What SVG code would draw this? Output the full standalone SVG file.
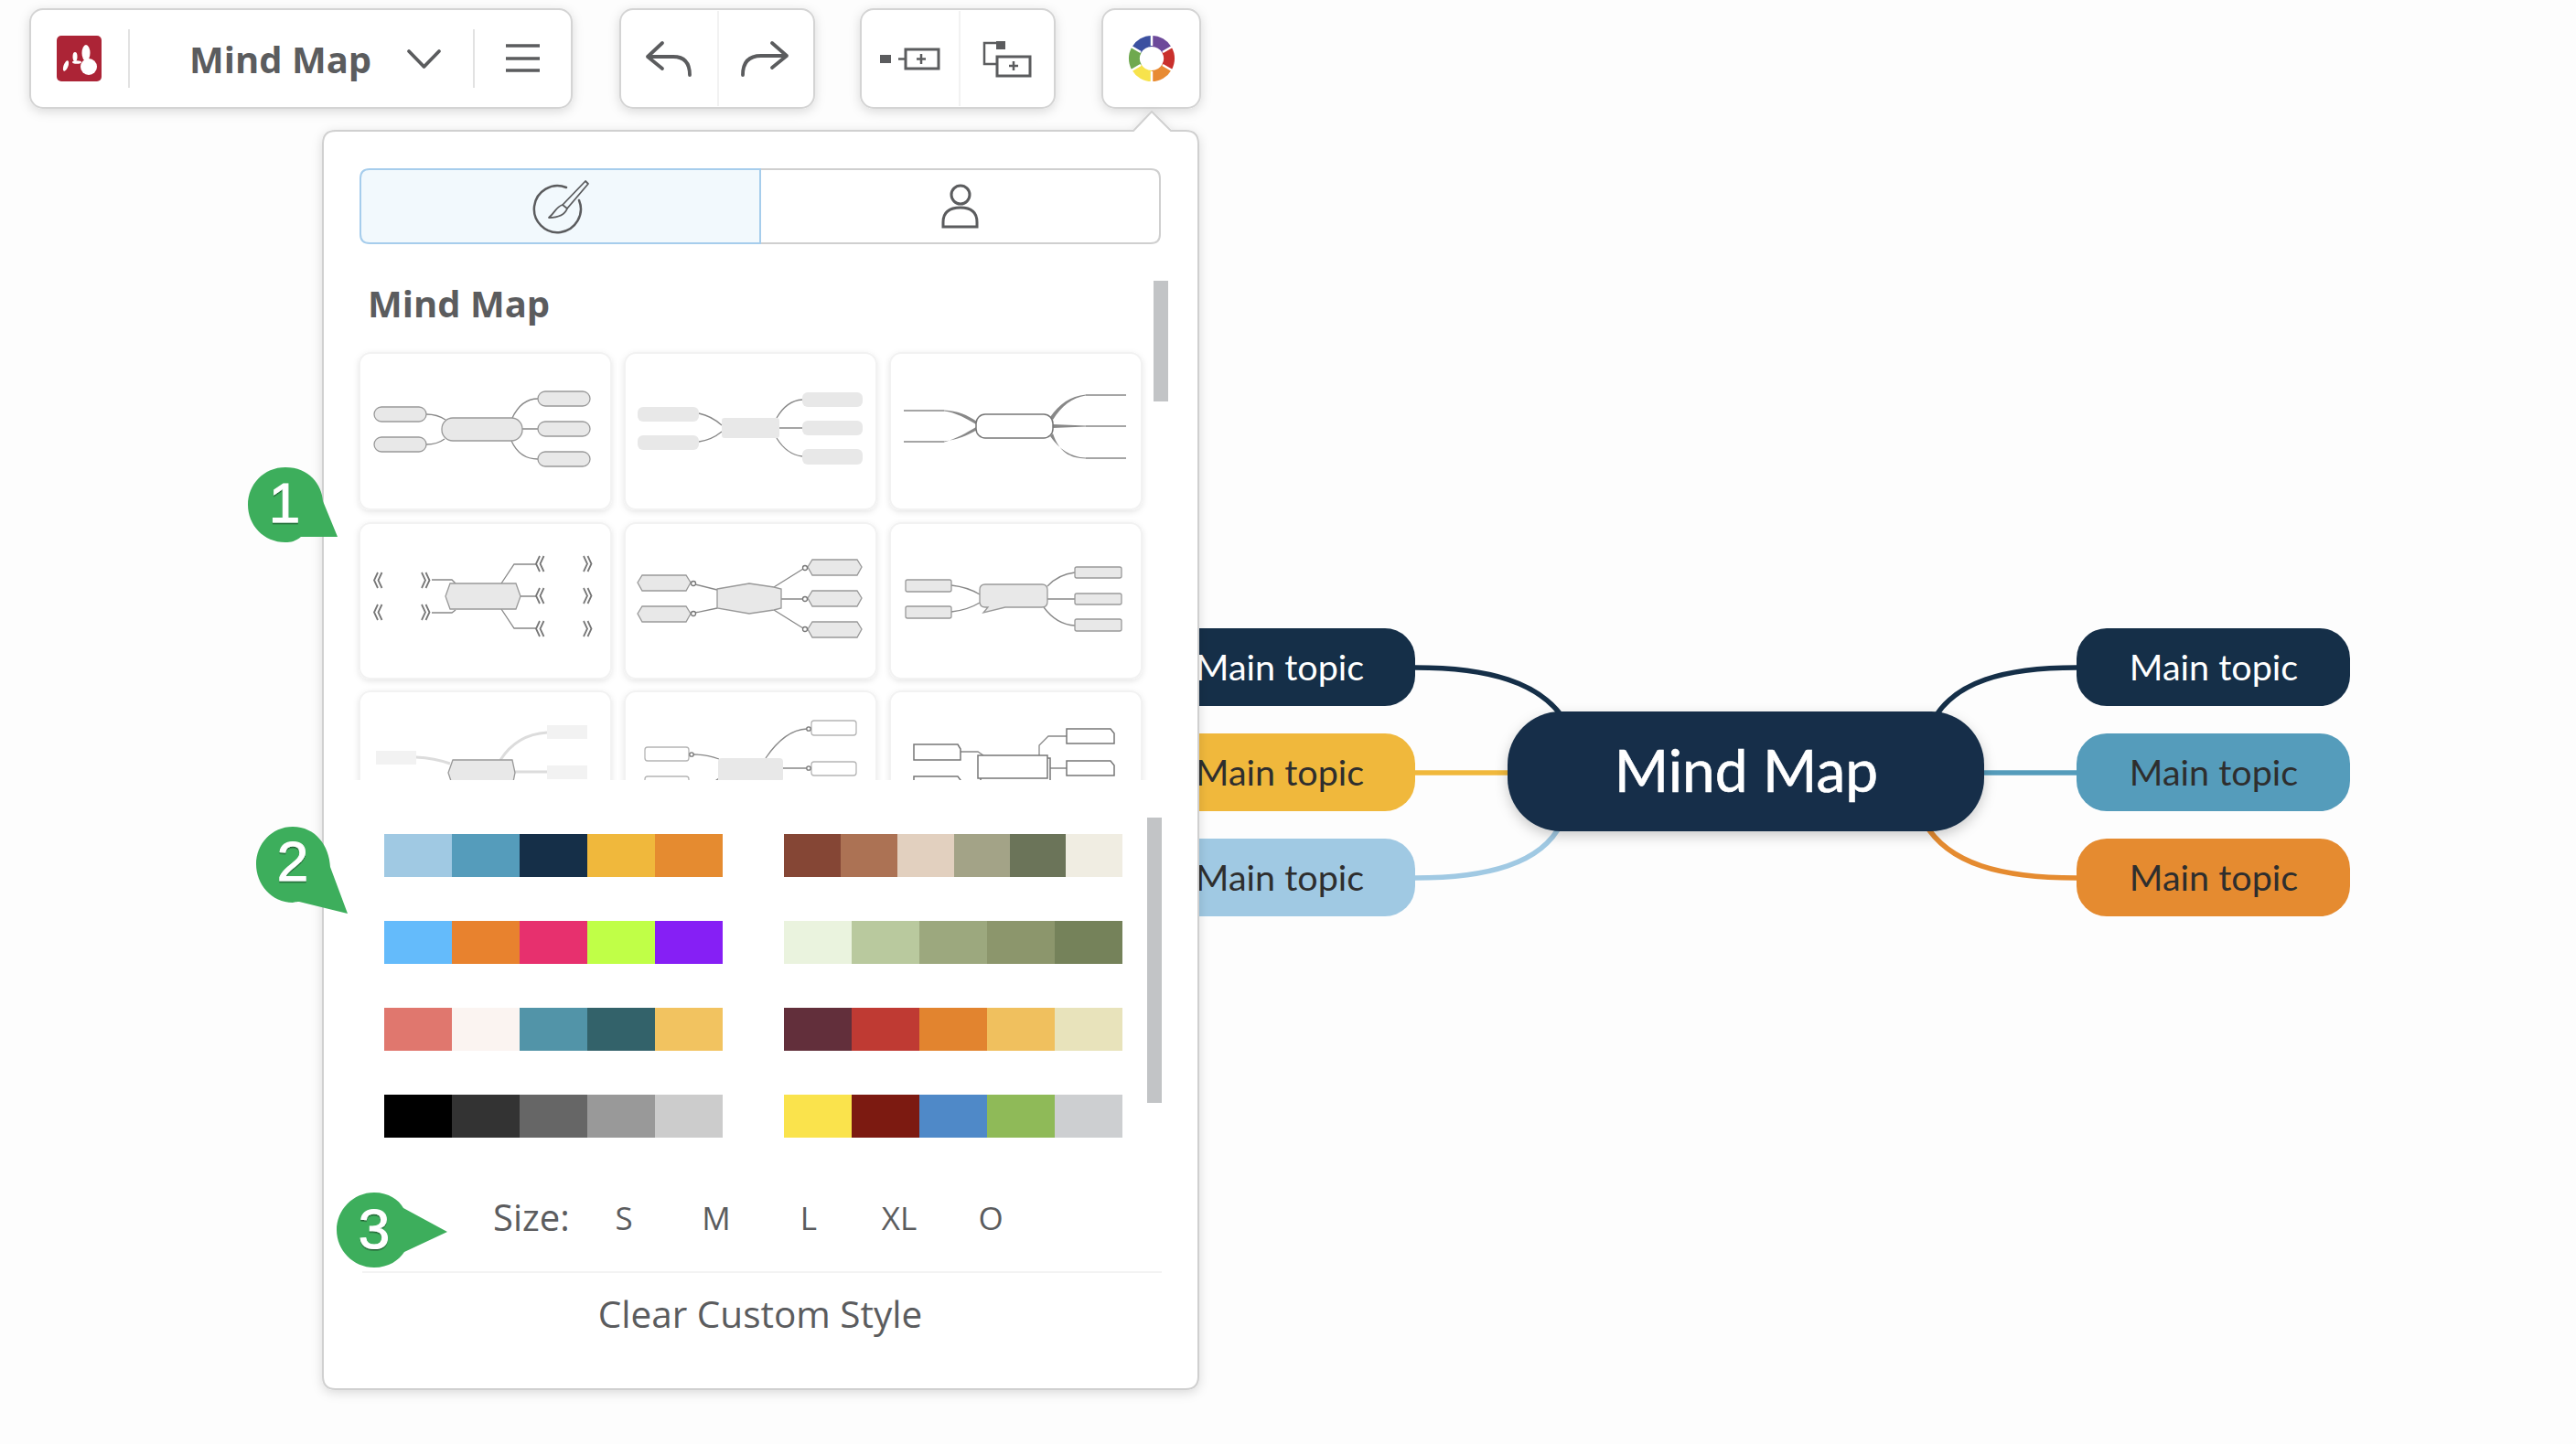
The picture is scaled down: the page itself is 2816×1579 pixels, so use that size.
<svg xmlns="http://www.w3.org/2000/svg" xmlns:xlink="http://www.w3.org/1999/xlink" width="2816" height="1579" viewBox="0 0 2816 1579">
<style>
.ui{font-family:"Open Sans","Noto Sans",sans-serif;fill:#5b5c5e}
.b{font-weight:700;font-size:40px}
.sz{font-size:35px;text-anchor:middle}
.tb{fill:#fff;stroke:#d4d4d4;stroke-width:2;filter:url(#sh)}
.sep{stroke:#e2e2e2;stroke-width:2}
.ic{fill:none;stroke:#5b5c5e;stroke-width:3.8;stroke-linecap:round;stroke-linejoin:round}
.card{fill:#fff;stroke:#f2f2f2;stroke-width:2;filter:url(#shc)}
.m{fill:#e8e8e8;stroke:#999;stroke-width:1.3}
.mn{fill:#e8e8e8}
.mw{fill:#fff;stroke:#b5b5b5;stroke-width:1.3}
.md{fill:#fff;stroke:#777;stroke-width:1.5}
.l{fill:none;stroke:#888;stroke-width:1.3}
.ch{fill:none;stroke:#777;stroke-width:1.8}
.lt{fill:none;stroke:#dcdcdc;stroke-width:3}
.tp{fill:#888}
.o{fill:#fff;stroke:#777;stroke-width:1.3}
.badge{fill:#3dae5c}
.num{font-family:"Liberation Sans",Arial,sans-serif;font-size:62px;fill:#fff;stroke:#fff;stroke-width:1;text-anchor:middle;filter:url(#ts)}
.topic{font-family:Lato,"Open Sans",sans-serif;font-size:39.500px;text-anchor:middle}
.c{fill:none;stroke-width:5.500}
</style>
<defs>
<filter id="sh" x="-20%" y="-30%" width="140%" height="170%"><feDropShadow dx="0" dy="3" stdDeviation="6" flood-color="#000" flood-opacity=".14"/></filter>
<filter id="shc" x="-10%" y="-10%" width="120%" height="125%"><feDropShadow dx="0" dy="2" stdDeviation="3" flood-color="#000" flood-opacity=".1"/></filter>
<filter id="shn" x="-10%" y="-20%" width="120%" height="150%"><feDropShadow dx="0" dy="5" stdDeviation="7" flood-color="#000" flood-opacity=".2"/></filter>
<filter id="ts" x="-30%" y="-20%" width="160%" height="140%"><feDropShadow dx="0" dy="1.500" stdDeviation=".5" flood-color="#000" flood-opacity=".45"/></filter>
<clipPath id="cards"><rect x="360" y="370" width="900" height="483"/></clipPath>
<g id="chl" class="ch"><path d="M4 0L0 8.500L4 17M8.500 0L4.500 8.500L8.500 17"/></g>
<g id="chr" class="ch"><path d="M0 0L4 8.500L0 17M4.500 0L8.500 8.500L4.500 17"/></g>
</defs>
<rect width="2816" height="1579" fill="#fdfdfd"/>

<g id="connectors">
<path class="c" stroke="#152f48" d="M1547 730C1625 730 1685 745 1712 790"/>
<path class="c" stroke="#f0b83c" d="M1547 845H1650"/>
<path class="c" stroke="#a0c9e3" d="M1547 960C1625 960 1685 945 1707 900"/>
<path class="c" stroke="#152f48" d="M2270 730C2192 730 2135 745 2112 790"/>
<path class="c" stroke="#559cbb" d="M2167 845H2270"/>
<path class="c" stroke="#e58b30" d="M2270 960C2188 960 2130 945 2104 900"/>
</g>

<g id="node-left-1"><rect x="1248" y="687" width="299" height="85" rx="33" fill="#152f48"/><text class="topic" x="1399" y="744" fill="#fff">Main topic</text></g>
<g id="node-left-2"><rect x="1248" y="802" width="299" height="85" rx="33" fill="#f0b83c"/><text class="topic" x="1399" y="859" fill="#2e2e2e">Main topic</text></g>
<g id="node-left-3"><rect x="1248" y="917" width="299" height="85" rx="33" fill="#a0c9e3"/><text class="topic" x="1399" y="974" fill="#2e2e2e">Main topic</text></g>
<g id="node-right-1"><rect x="2270" y="687" width="299" height="85" rx="33" fill="#152f48"/><text class="topic" x="2420" y="744" fill="#fff">Main topic</text></g>
<g id="node-right-2"><rect x="2270" y="802" width="299" height="85" rx="33" fill="#559cbb"/><text class="topic" x="2420" y="859" fill="#2e2e2e">Main topic</text></g>
<g id="node-right-3"><rect x="2270" y="917" width="299" height="85" rx="33" fill="#e58b30"/><text class="topic" x="2420" y="974" fill="#2e2e2e">Main topic</text></g>
<g id="node-center"><rect x="1648" y="778" width="521" height="131" rx="58" fill="#152f48" filter="url(#shn)"/><text x="1909" y="866" font-family="Lato,'Open Sans',sans-serif" font-size="64" fill="#fff" stroke="#fff" stroke-width=".6" text-anchor="middle">Mind Map</text></g>

<g id="toolbar-main">
<rect class="tb" x="33" y="10" width="592" height="108" rx="14"/>
<rect x="62" y="39" width="49" height="50" rx="5" fill="#ac2436"/>
<g fill="#fff"><circle cx="97" cy="73" r="9"/><ellipse cx="94" cy="58" rx="4.500" ry="9"/><ellipse cx="82" cy="62" rx="2.500" ry="5"/><ellipse cx="72" cy="72" rx="2.500" ry="6" transform="rotate(20 72 72)"/><ellipse cx="84" cy="68" rx="5" ry="1.800"/></g>
<line class="sep" x1="141" y1="32" x2="141" y2="96"/>
<text class="ui b" x="207" y="80">Mind Map</text>
<path class="ic" stroke-width="2.500" d="M447 56L463.500 73L480 56"/>
<line class="sep" x1="518" y1="32" x2="518" y2="96"/>
<path d="M553 50H590M553 64H590M553 77H590" stroke="#5b5c5e" stroke-width="3.500" fill="none"/>
</g>
<g id="toolbar-undo">
<rect class="tb" x="678" y="10" width="212" height="108" rx="14"/>
<line x1="785" y1="12" x2="785" y2="116" stroke="#f2f2f2" stroke-width="2"/>
<path class="ic" d="M724 47L708 62L724 75M708 62H736Q754 62 754 82"/>
<path class="ic" d="M844 47L860 61L844 74M860 61H832Q812 61 812 82"/>
</g>
<g id="toolbar-add">
<rect class="tb" x="941" y="10" width="212" height="108" rx="14"/>
<line x1="1049" y1="12" x2="1049" y2="116" stroke="#f2f2f2" stroke-width="2"/>
<rect x="962" y="60" width="12" height="9" fill="#5b5c5e"/>
<path d="M982 64.500H990M1002 64.500H1012M1007 59V70" fill="none" stroke="#5b5c5e" stroke-width="2.500"/>
<rect x="990" y="54" width="36" height="21" fill="none" stroke="#5b5c5e" stroke-width="3"/>
<rect x="1089" y="45" width="10" height="9" fill="#5b5c5e"/>
<path d="M1089 47H1076V70H1090M1103 72H1113M1108 67V77" fill="none" stroke="#5b5c5e" stroke-width="2.500"/>
<rect x="1090" y="62" width="36" height="21" fill="none" stroke="#5b5c5e" stroke-width="3"/>
</g>
<g id="toolbar-theme">
<rect class="tb" x="1205" y="10" width="107" height="108" rx="14"/>
<g fill="none" stroke-width="12">
<path stroke="#6d4a9a" d="M1259 45A19 19 0 0 1 1275.500 54.500"/>
<path stroke="#c9302c" d="M1275.500 54.500A19 19 0 0 1 1275.500 73.500"/>
<path stroke="#e88b33" d="M1275.500 73.500A19 19 0 0 1 1259 83"/>
<path stroke="#f7e34c" d="M1259 83A19 19 0 0 1 1242.500 73.500"/>
<path stroke="#6fa94f" d="M1242.500 73.500A19 19 0 0 1 1242.500 54.500"/>
<path stroke="#3b50a0" d="M1242.500 54.500A19 19 0 0 1 1259 45"/>
</g>
<path d="M1259 36V50M1259 78V92M1235 50L1247 57M1271 71L1283 78M1235 78L1247 71M1271 57L1283 50" stroke="#fff" stroke-width="2.500"/>
</g>

<g id="panel">
<path d="M367 143H1239L1259 122L1280 143H1296Q1310 143 1310 157V1505Q1310 1519 1296 1519H367Q353 1519 353 1505V157Q353 143 367 143Z" fill="#fff" stroke="#d0d0d0" stroke-width="2" filter="url(#sh)"/>
<path d="M831 185H1258Q1268 185 1268 195V256Q1268 266 1258 266H831Z" fill="#fff" stroke="#cfcfcf" stroke-width="2"/>
<path d="M831 185H404Q394 185 394 195V256Q394 266 404 266H831Z" fill="#f2f9fd" stroke="#a6cdec" stroke-width="2"/>
<g id="icon-brush" fill="none" stroke="#5b5c5e" stroke-width="2.500" stroke-linecap="round" stroke-linejoin="round">
<path d="M619 205A25.500 25.500 0 1 0 633 219"/>
<path stroke-width="1.800" d="M640 198L643 201L620 228L615 224Z"/>
<path stroke-width="1.800" d="M615 224C608 226 607 232 600 238C609 238 617 236 620 228"/>
</g>
<g id="icon-person" fill="none" stroke="#5b5c5e" stroke-width="3">
<circle cx="1050" cy="213" r="10"/>
<path d="M1031 248V243Q1031 227 1050 227Q1068 227 1068 243V248Z"/>
</g>
<text class="ui b" x="402" y="347">Mind Map</text>
<rect x="1261" y="307" width="16" height="132" fill="#c2c4c6"/>

<g id="thumbnails" clip-path="url(#cards)">
<g id="thumb-1">
<rect class="card" x="393" y="386" width="275" height="171" rx="12"/>
<path class="l" d="M466 453Q478 453 487 459M466 486Q478 486 486 480M560 457Q570 436 588 436M571 469H588M559 482Q568 502 588 502"/>
<rect class="m" x="409" y="445" width="57" height="16" rx="8"/><rect class="m" x="409" y="478" width="57" height="16" rx="8"/>
<rect class="m" x="483" y="457" width="88" height="25" rx="12" stroke="#777"/>
<rect class="m" x="588" y="428" width="57" height="16" rx="8"/><rect class="m" x="588" y="461" width="57" height="16" rx="8"/><rect class="m" x="588" y="494" width="57" height="16" rx="8"/>
</g>
<g id="thumb-2">
<rect class="card" x="683" y="386" width="275" height="171" rx="12"/>
<path class="l" d="M764 452Q778 455 789 465M764 483Q778 481 789 472M849 457Q860 438 877 437M852 468H877M849 479Q860 497 877 499"/>
<rect class="mn" x="697" y="445" width="67" height="16" rx="6"/><rect class="mn" x="697" y="476" width="67" height="16" rx="6"/>
<rect class="mn" x="789" y="457" width="63" height="22" rx="3"/>
<rect class="mn" x="877" y="429" width="66" height="16" rx="6"/><rect class="mn" x="877" y="460" width="66" height="16" rx="6"/><rect class="mn" x="877" y="491" width="66" height="17" rx="6"/>
</g>
<g id="thumb-3">
<rect class="card" x="973" y="386" width="275" height="171" rx="12"/>
<path class="l" stroke-width="1.800" d="M988 449H1032M988 483H1032M1187 432H1231M1187 466H1231M1187 501H1231"/>
<path class="tp" d="M1032 448.500C1046 449 1058 454 1068 461L1067 464C1057 458 1045 451 1032 449.500ZM1032 482.500C1046 481 1058 476 1068 470L1067 467C1057 473 1045 480 1032 483.500ZM1148 456C1158 442 1170 433 1187 431.500V432.500C1172 435 1160 444 1151 459ZM1151 464L1187 465.500V466.500L1151 468ZM1148 477C1158 491 1170 500 1187 500.500V501.500C1170 501 1158 495 1151 474Z"/>
<rect x="1067" y="453" width="84" height="26" rx="10" fill="#fff" stroke="#777" stroke-width="1.500"/>
</g>
<g id="thumb-4">
<rect class="card" x="393" y="572" width="275" height="170" rx="12"/>
<path class="l" d="M498 638L494 634H472M498 667L494 670H472M548 638L562 617H586M569 652H586M548 666L562 687H586"/>
<polygon class="m" stroke="#777" points="492,638 564,638 569,652 564,666 492,666 487,652"/>
<use href="#chl" x="409" y="626"/><use href="#chl" x="409" y="661"/><use href="#chr" x="461" y="626"/><use href="#chr" x="461" y="661"/>
<use href="#chl" x="586" y="608"/><use href="#chl" x="586" y="643"/><use href="#chl" x="586" y="679"/><use href="#chr" x="638" y="608"/><use href="#chr" x="638" y="643"/><use href="#chr" x="638" y="679"/>
</g>
<g id="thumb-5">
<rect class="card" x="683" y="572" width="275" height="170" rx="12"/>
<path class="l" d="M760 639L784 645M760 670L784 665M878 622L846 642M878 655H854M878 687L846 667"/>
<polygon class="m" points="784,644 819,638 846,642 854,644 854,665 846,667 819,671 784,665" fill="#eee"/>
<polygon class="m" points="697,637 702,629 750,629 755,637 750,646 702,646"/><polygon class="m" points="697,671 702,663 750,663 755,671 750,680 702,680"/>
<polygon class="m" points="883,620 888,612 937,612 942,620 937,629 888,629"/><polygon class="m" points="883,654 888,646 937,646 942,654 937,663 888,663"/><polygon class="m" points="883,688 888,680 937,680 942,688 937,697 888,697"/>
<circle class="o" cx="758" cy="638" r="2.500"/><circle class="o" cx="758" cy="671" r="2.500"/><circle class="o" cx="880" cy="621" r="2.500"/><circle class="o" cx="880" cy="655" r="2.500"/><circle class="o" cx="880" cy="688" r="2.500"/>
</g>
<g id="thumb-6">
<rect class="card" x="973" y="572" width="275" height="170" rx="12"/>
<path class="l" d="M1040 640Q1058 642 1071 650M1040 669Q1058 667 1071 659M1145 641Q1157 628 1175 626M1145 655H1175M1141 664Q1155 683 1175 684"/>
<path class="m" stroke="#777" stroke-width="1.500" d="M1077 639H1139Q1145 639 1145 645V658Q1145 664 1139 664H1099L1075 670L1080 664H1077Q1071 664 1071 658V645Q1071 639 1077 639Z"/>
<rect class="m" x="990" y="634" width="50" height="13" rx="2"/><rect class="m" x="990" y="663" width="50" height="13" rx="2"/>
<rect class="m" x="1175" y="620" width="51" height="12" rx="2"/><rect class="m" x="1175" y="649" width="51" height="12" rx="2"/><rect class="m" x="1175" y="677" width="51" height="13" rx="2"/>
</g>
<g id="thumb-7">
<rect class="card" x="393" y="756" width="275" height="171" rx="12"/>
<path class="lt" d="M455 828Q475 829 492 835M547 831Q565 803 598 801M563 844H598"/>
<polygon class="m" stroke="#777" points="495,831 560,831 563,845 560,860 495,860 490,845"/>
<rect x="411" y="821" width="44" height="15" fill="#f2f2f2"/><rect x="598" y="793" width="44" height="15" fill="#f2f2f2"/><rect x="598" y="837" width="44" height="15" fill="#f2f2f2"/>
</g>
<g id="thumb-8">
<rect class="card" x="683" y="756" width="275" height="171" rx="12"/>
<path class="l" d="M758 825Q773 825 786 830M837 829Q858 798 882 797M856 840H882M786 851L779 856M843 851L846 856"/>
<rect class="mn" x="785" y="829" width="71" height="26" rx="4"/>
<rect class="mw" x="705" y="817" width="48" height="15" rx="3"/><rect class="mw" x="705" y="849" width="48" height="15" rx="3"/>
<rect class="mw" x="887" y="788" width="49" height="16" rx="3"/><rect class="mw" x="887" y="833" width="49" height="15" rx="3"/>
<circle class="o" cx="756" cy="825" r="2.200"/><circle class="o" cx="884" cy="797" r="2.200"/><circle class="o" cx="884" cy="840" r="2.200"/>
</g>
<g id="thumb-9">
<rect class="card" x="973" y="756" width="275" height="171" rx="12"/>
<path class="l" d="M1050 822H1069L1075 826M1136 826V815L1146 805H1166M1146 840H1166"/>
<rect class="md" x="1072" y="829" width="76" height="27"/>
<rect class="md" x="1069" y="826" width="76" height="25"/>
<path class="md" d="M1166 797H1214L1218 802V813H1166Z"/><path class="md" d="M1166 832H1214L1218 837V848H1166Z"/>
<path class="md" d="M999 814H1047L1050 819V831H999Z"/><path class="md" d="M999 849H1047L1050 853V866H999Z"/>
</g>
</g>

<g id="palettes">
<rect x="1254" y="894" width="16" height="312" fill="#c2c4c6"/>
<g id="pal-1-l"><rect x="420" y="912" width="74" height="47" fill="#a0c9e3"/><rect x="494" y="912" width="74" height="47" fill="#559cbb"/><rect x="568" y="912" width="74" height="47" fill="#152f48"/><rect x="642" y="912" width="74" height="47" fill="#f0b83c"/><rect x="716" y="912" width="74" height="47" fill="#e58b30"/></g>
<g id="pal-1-r"><rect x="857" y="912" width="62" height="47" fill="#854635"/><rect x="919" y="912" width="62" height="47" fill="#ac7254"/><rect x="981" y="912" width="62" height="47" fill="#e2d0bf"/><rect x="1043" y="912" width="61" height="47" fill="#a3a387"/><rect x="1104" y="912" width="61" height="47" fill="#6b7459"/><rect x="1165" y="912" width="62" height="47" fill="#f0ede2"/></g>
<g id="pal-2-l"><rect x="420" y="1007" width="74" height="47" fill="#64bbfb"/><rect x="494" y="1007" width="74" height="47" fill="#e8822e"/><rect x="568" y="1007" width="74" height="47" fill="#e7306e"/><rect x="642" y="1007" width="74" height="47" fill="#c0ff47"/><rect x="716" y="1007" width="74" height="47" fill="#861ff5"/></g>
<g id="pal-2-r"><rect x="857" y="1007" width="74" height="47" fill="#eaf3de"/><rect x="931" y="1007" width="74" height="47" fill="#b9c99e"/><rect x="1005" y="1007" width="74" height="47" fill="#9ca87e"/><rect x="1079" y="1007" width="74" height="47" fill="#8c966c"/><rect x="1153" y="1007" width="74" height="47" fill="#75825a"/></g>
<g id="pal-3-l"><rect x="420" y="1102" width="74" height="47" fill="#e0776e"/><rect x="494" y="1102" width="74" height="47" fill="#fbf4f1"/><rect x="568" y="1102" width="74" height="47" fill="#5294a8"/><rect x="642" y="1102" width="74" height="47" fill="#33626a"/><rect x="716" y="1102" width="74" height="47" fill="#f2c360"/></g>
<g id="pal-3-r"><rect x="857" y="1102" width="74" height="47" fill="#622f3b"/><rect x="931" y="1102" width="74" height="47" fill="#bf3a33"/><rect x="1005" y="1102" width="74" height="47" fill="#e2842f"/><rect x="1079" y="1102" width="74" height="47" fill="#f0c05e"/><rect x="1153" y="1102" width="74" height="47" fill="#e8e3bb"/></g>
<g id="pal-4-l"><rect x="420" y="1197" width="74" height="47" fill="#000"/><rect x="494" y="1197" width="74" height="47" fill="#333"/><rect x="568" y="1197" width="74" height="47" fill="#666"/><rect x="642" y="1197" width="74" height="47" fill="#999"/><rect x="716" y="1197" width="74" height="47" fill="#ccc"/></g>
<g id="pal-4-r"><rect x="857" y="1197" width="74" height="47" fill="#fae34c"/><rect x="931" y="1197" width="74" height="47" fill="#7c1a11"/><rect x="1005" y="1197" width="74" height="47" fill="#4f89c8"/><rect x="1079" y="1197" width="74" height="47" fill="#8fba58"/><rect x="1153" y="1197" width="74" height="47" fill="#cdcfd1"/></g>
</g>

<g id="size-row">
<text class="ui" x="539" y="1346" font-size="40">Size:</text>
<text class="ui sz" x="682" y="1345">S</text>
<text class="ui sz" x="783" y="1345">M</text>
<text class="ui sz" x="884" y="1345">L</text>
<text class="ui sz" x="983" y="1345">XL</text>
<text class="ui sz" x="1083" y="1345">O</text>
</g>
<line x1="396" y1="1391" x2="1270" y2="1391" stroke="#f3f3f3" stroke-width="2"/>
<text class="ui" x="831" y="1452" font-size="40.500" text-anchor="middle">Clear Custom Style</text>
</g>

<g id="badge-1"><path class="badge" d="M312 511C338 511 352 530 353 548L369 587L329 587C323 592 318 593 312 593C288 593 271 574 271 552C271 530 288 511 312 511Z"/><text class="num" x="311" y="571">1</text></g>
<g id="badge-2"><path class="badge" d="M320 904C345 904 360 925 361 948L380 999L327 986C323 986 320 987 320 987C297 987 280 967 280 945C280 923 297 904 320 904Z"/><text class="num" x="320" y="963">2</text></g>
<g id="badge-3"><path class="badge" d="M409 1304C425 1304 436 1312 441 1321L489 1347L442 1369C436 1378 425 1386 409 1386C386 1386 368 1367 368 1345C368 1323 386 1304 409 1304Z"/><text class="num" x="409" y="1365">3</text></g>
</svg>
